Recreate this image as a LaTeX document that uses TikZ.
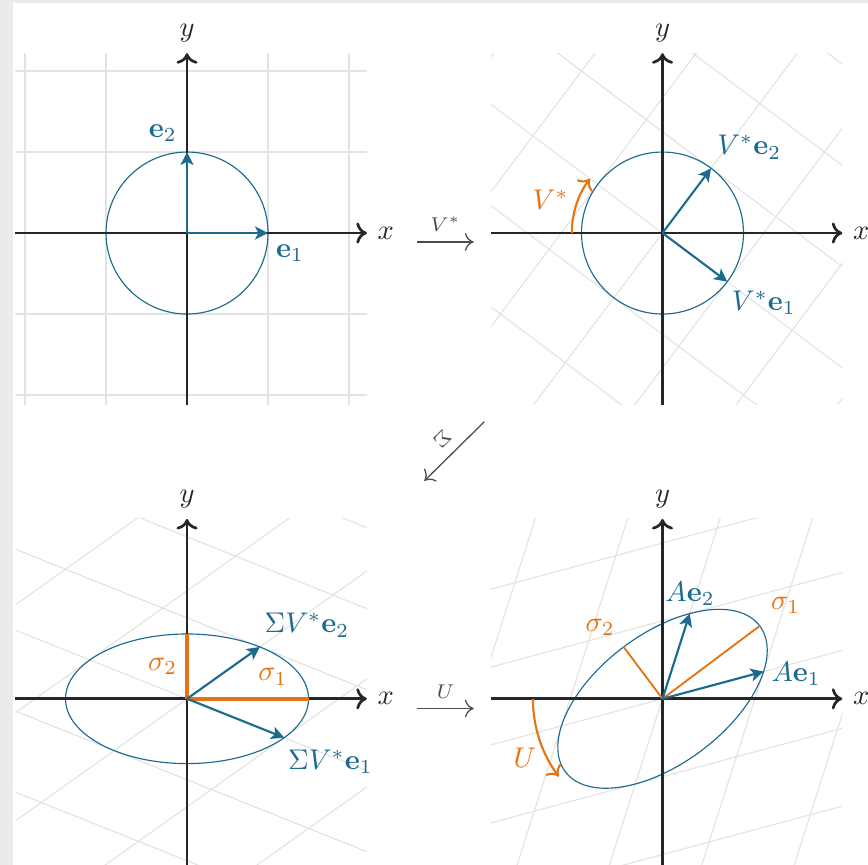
\documentclass[tikz,border=0pt]{standalone}
\usepackage{amsmath}
\usepackage{amssymb}
\usetikzlibrary{arrows.meta,calc,positioning}
\definecolor{svdblue}{rgb}{0.11,0.42,0.56}
\definecolor{svdorange}{rgb}{0.90,0.46,0.08}
\definecolor{gridgray}{rgb}{0.89,0.89,0.89}
\definecolor{framegray}{rgb}{0.92,0.92,0.92}
\tikzset{
  rejilla/.style={
    draw=gridgray,
    line width=0.4pt
  },
  eje/.style={
    -{To[length=1.3mm,width=2.6mm]},
    line width=0.95pt,
    black!85
  },
  vector/.style={
    -{Stealth[length=1.6mm,width=1.6mm,inset=0.4mm]},
    line width=0.75pt,
    svdblue
  },
  contorno/.style={
    draw=svdblue,
    line width=0.4pt
  },
  semieje/.style={
    line width=0.65pt,
    svdorange
  },
  giro/.style={
    -{To[length=1.2mm,width=2.4mm]},
    line width=0.75pt,
    svdorange
  },
  flecha/.style={
    -{To[length=1.1mm,width=2.2mm]},
    line width=0.45pt,
    black!70
  },
  etq/.style={
    text=svdblue,
    inner sep=1pt
  },
  etqn/.style={
    text=svdorange,
    inner sep=1pt
  }
}

\begin{document}
\begin{tikzpicture}
\useasboundingbox (-2.309,-7.802) rectangle (8.407,2.877);
\fill[framegray] (-2.309,-7.802) rectangle (8.407,2.877);
\fill[white] (-2.148,-7.802) rectangle (8.407,2.840);

% e1, e2
\begin{scope}
  \begin{scope}
    \clip (-2.12,-2.12) rectangle (2.22,2.22);
    \draw[rejilla] (-3,-3) grid (3,3);
  \end{scope}
  \coordinate (o1) at (0,0);
  \draw[contorno] (o1) circle[radius=1];
  \draw[eje] (-2.12,0) -- (2.22,0) node[right] (x1) {$x$};
  \draw[eje] (0,-2.12) -- (0,2.22) node[above] (y1) {$y$};
  \draw[vector] (o1) -- (1,0) coordinate (a1);
  \draw[vector] (o1) -- (0,1) coordinate (a2);
  \node[etq] (la1) at (1.27,-0.25) {$\mathbf{e}_1$};
  \node[etq] (la2) at (-0.30,1.23) {$\mathbf{e}_2$};
\end{scope}

% V*
\begin{scope}[shift={(5.87,0)}]
  \begin{scope}
    \clip (-2.12,-2.12) rectangle (2.22,2.22);
    \draw[rejilla, cm={0.8,-0.6,0.6,0.8,(0,0)}] (-4,-4) grid (4,4);
  \end{scope}
  \coordinate (o2) at (0,0);
  \draw[contorno] (o2) circle[radius=1];
  \draw[eje] (-2.12,0) -- (2.22,0) node[right] (x2) {$x$};
  \draw[eje] (0,-2.12) -- (0,2.22) node[above] (y2) {$y$};
  \draw[giro] (180:1.12) arc[start angle=180, end angle=143.13, radius=1.12];
  \draw[vector] (o2) -- (0.8,-0.6) coordinate (b1);
  \draw[vector] (o2) -- (0.6,0.8) coordinate (b2);
  \node[etq] (lb1) at (1.25,-0.86) {$V^*\mathbf{e}_1$};
  \node[etq] (lb2) at (1.07,1.06) {$V^*\mathbf{e}_2$};
  \node[etqn] (lb) at (-1.38,0.41) {$V^*$};
\end{scope}

% Sigma V*
\begin{scope}[shift={(0,-5.75)}]
  \begin{scope}
    \clip (-2.12,-2.12) rectangle (2.22,2.22);
    \draw[rejilla, cm={1.2,-0.48,0.9,0.64,(0,0)}] (-5,-5) grid (5,5);
  \end{scope}
  \coordinate (o3) at (0,0);
  \draw[contorno] (o3) ellipse[x radius=1.5, y radius=0.8];
  \draw[eje] (-2.12,0) -- (2.22,0) node[right] (x3) {$x$};
  \draw[eje] (0,-2.12) -- (0,2.22) node[above] (y3) {$y$};
  \draw[semieje, line width=1.2pt] (o3) -- (1.5,0) coordinate (s1);
  \draw[semieje, line width=1.2pt] (o3) -- (0,0.8) coordinate (s2);
  \draw[vector] (o3) -- (1.2,-0.48) coordinate (c1);
  \draw[vector] (o3) -- (0.9,0.64) coordinate (c2);
  \node[etq] (lc1) at (1.77,-0.78) {$\Sigma V^*\mathbf{e}_1$};
  \node[etq] (lc2) at (1.48,0.91) {$\Sigma V^*\mathbf{e}_2$};
  \node[etqn] (ls1) at (1.06,0.27) {$\sigma_1$};
  \node[etqn] (ls2) at (-0.30,0.40) {$\sigma_2$};
\end{scope}

% U Sigma V*
\begin{scope}[shift={(5.87,-5.75)}]
  \begin{scope}
    \clip (-2.12,-2.12) rectangle (2.22,2.22);
    \draw[rejilla, cm={1.248,0.336,0.336,1.052,(0,0)}] (-5,-5) grid (5,5);
  \end{scope}
  \coordinate (o4) at (0,0);
  \draw[contorno, rotate=36.87] (o4) ellipse[x radius=1.5, y radius=0.8];
  \draw[eje] (-2.12,0) -- (2.22,0) node[right] (x4) {$x$};
  \draw[eje] (0,-2.12) -- (0,2.22) node[above] (y4) {$y$};
  \draw[giro] (180:1.6) arc[start angle=180, end angle=216.87, radius=1.6];
  \draw[semieje] (o4) -- (1.2,0.9) coordinate (t1);
  \draw[semieje] (o4) -- (-0.48,0.64) coordinate (t2);
  \draw[vector] (o4) -- (1.248,0.336) coordinate (d1);
  \draw[vector] (o4) -- (0.336,1.052) coordinate (d2);
  \node[etq] (ld1) at (1.65,0.31) {$A\mathbf{e}_1$};
  \node[etq] (ld2) at (0.34,1.30) {$A\mathbf{e}_2$};
  \node[etqn] (lt1) at (1.52,1.15) {$\sigma_1$};
  \node[etqn] (lt2) at (-0.77,0.88) {$\sigma_2$};
  \node[etqn] (lu) at (-1.70,-0.73) {$U$};
\end{scope}

% pasos
\coordinate (p1) at (2.84,-0.11);
\coordinate (q1) at (3.54,-0.11);
\coordinate (p2) at (3.67,-2.33);
\coordinate (q2) at (2.93,-3.06);
\coordinate (p3) at (2.84,-5.87);
\coordinate (q3) at (3.54,-5.87);
\draw[flecha] (p1) -- node[above, font=\scriptsize] {$V^*$} (q1);
\draw[flecha] (p2) -- node[below, sloped, allow upside down, font=\scriptsize] {$\Sigma$} (q2);
\draw[flecha] (p3) -- node[above, font=\scriptsize] {$U$} (q3);
\end{tikzpicture}
\end{document}
